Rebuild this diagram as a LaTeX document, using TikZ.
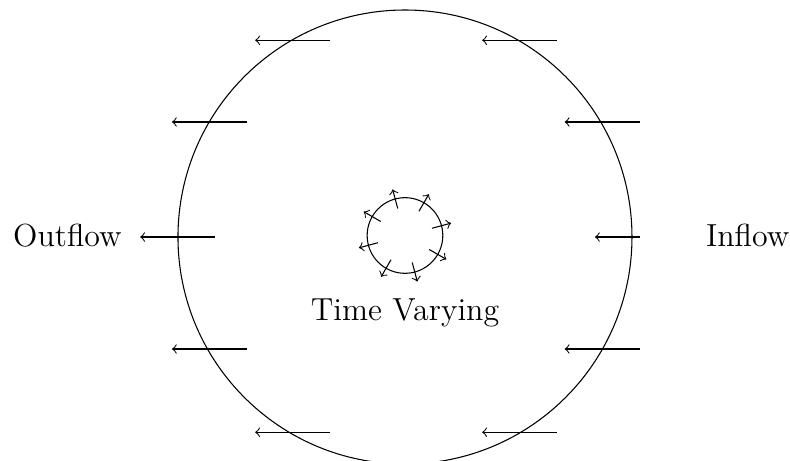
\documentclass[tikz,border=0pt]{standalone}
\usetikzlibrary{calc}
\begin{document}
\begin{tikzpicture}[x=1cm,y=1cm,
  flow/.style={->},
  lbl/.style={font=\large, inner sep=0pt, anchor=base}]
\clip (-5.352,-2.960) rectangle (5.088,3.132);
\useasboundingbox (-5.352,-2.960) rectangle (5.088,3.132);
% outer domain
\draw (0,0) circle (3);
% inner time-varying cylinder
\node[circle, draw, minimum size=1cm, inner sep=0pt] (cyl) at (0,0.02) {};
\foreach \a in {105,60,15,-30,-75,-120,-165,150}
  \draw[flow] ($(cyl.center)+(\a:0.37)$) -- ($(cyl.center)+(\a:0.63)$);
\node[lbl] (tv) at (0,-1.10) {Time Varying};
% labels
\node[lbl] (in) at (4.53,-0.12) {Inflow};
\node[lbl] (out) at (-4.46,-0.12) {Outflow};
% flow arrows
\draw[flow] (3.10,0) -- (2.51,0);
\draw[flow] (-2.51,0) -- (-3.50,0);
\foreach \y in {1.52,-1.48} {
  \draw[flow] (3.10,\y) -- (2.11,\y);
  \draw[flow] (-2.09,\y) -- (-3.08,\y);
}
\foreach \y in {2.60,-2.58} {
  \draw[flow] (2.01,\y) -- (1.02,\y);
  \draw[flow] (-0.99,\y) -- (-1.98,\y);
}
\end{tikzpicture}
\end{document}
